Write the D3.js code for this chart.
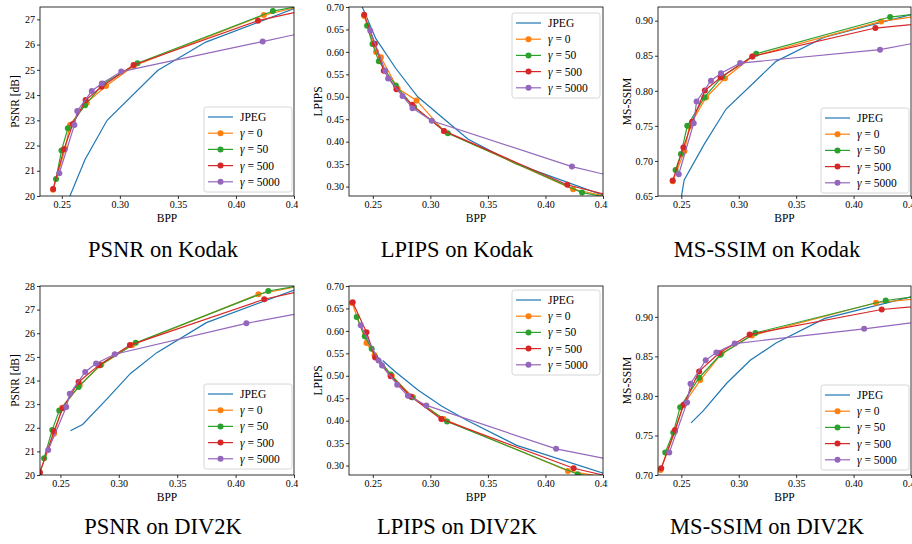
<!DOCTYPE html>
<html>
<head>
<meta charset="utf-8">
<script src="https://cdn.jsdelivr.net/npm/d3@7"></script>
<style>
  body { margin: 0; background: #fff; }
  text { font-family: "Liberation Serif", "Times New Roman", serif; fill: #000; }
</style>
</head>
<body>
<div id="chart"></div>
<script>
// ---- data ----
var seriesNames = ["JPEG", "0", "50", "500", "5000"];
var seriesColors = ["#1f77b4", "#ff7f0e", "#2ca02c", "#d62728", "#9467bd"];

var xTicks = [0.25, 0.30, 0.35, 0.40, 0.45];
var psnrKodakTicks = [20, 21, 22, 23, 24, 25, 26, 27];
var psnrDivTicks = [20, 21, 22, 23, 24, 25, 26, 27, 28];
var lpipsTicks = [0.30, 0.35, 0.40, 0.45, 0.50, 0.55, 0.60, 0.65, 0.70];
var msssimKodakTicks = [0.65, 0.70, 0.75, 0.80, 0.85, 0.90];
var msssimDivTicks = [0.70, 0.75, 0.80, 0.85, 0.90];

// Kodak
var kodakJpegBpp = [0.2400, 0.2525, 0.2700, 0.2890, 0.3325, 0.3740, 0.4600];
var kodakJpegPsnr = [18.5, 19.5, 21.45, 23.00, 24.97, 26.10, 27.60];
var kodakJpegLpips = [0.705, 0.630, 0.563, 0.500, 0.406, 0.351, 0.272];
var kodakJpegMsssim = [0.550, 0.673, 0.724, 0.774, 0.842, 0.876, 0.913];

var kodakG0Bpp = [0.2425, 0.2528, 0.2570, 0.2715, 0.2880, 0.3120, 0.4240, 0.55];
var kodakG0Psnr = [20.25, 21.86, 22.81, 23.70, 24.36, 25.15, 27.17, 28.53];
var kodakG0Lpips = [0.680, 0.600, 0.588, 0.519, 0.492, 0.423, 0.294, 0.226];
var kodakG0Msssim = [0.671, 0.714, 0.749, 0.7905, 0.818, 0.849, 0.899, 0.928];

var kodakG50Bpp = [0.2450, 0.2497, 0.2552, 0.2700, 0.2858, 0.3152, 0.4318, 0.55];
var kodakG50Psnr = [20.67, 21.80, 22.68, 23.60, 24.45, 25.26, 27.33, 28.31];
var kodakG50Lpips = [0.658, 0.6175, 0.579, 0.525, 0.477, 0.419, 0.2866, 0.230];
var kodakG50Msssim = [0.687, 0.710, 0.750, 0.7905, 0.8205, 0.8529, 0.9052, 0.9276];

var kodakG500Bpp = [0.2425, 0.2518, 0.2595, 0.2705, 0.2842, 0.3118, 0.4190, 0.55];
var kodakG500Psnr = [20.28, 21.85, 22.85, 23.80, 24.33, 25.19, 26.95, 28.3];
var kodakG500Lpips = [0.683, 0.618, 0.558, 0.517, 0.482, 0.424, 0.304, 0.218];
var kodakG500Msssim = [0.672, 0.719, 0.756, 0.8005, 0.819, 0.849, 0.8895, 0.910];

var kodakG5000Bpp = [0.2478, 0.2608, 0.2633, 0.2758, 0.2845, 0.3012, 0.4230, 0.55];
var kodakG5000Psnr = [20.90, 22.81, 23.37, 24.16, 24.46, 24.93, 26.12, 27.39];
var kodakG5000Lpips = [0.647, 0.558, 0.541, 0.502, 0.4747, 0.4465, 0.3446, 0.2665];
var kodakG5000Msssim = [0.681, 0.7538, 0.7848, 0.8143, 0.825, 0.8395, 0.8586, 0.8986];

// DIV2K
var divJpegBpp = [0.2585, 0.2690, 0.2895, 0.3100, 0.3325, 0.3750, 0.4600];
var divJpegPsnr = [21.87, 22.14, 23.20, 24.30, 25.18, 26.45, 28.01];
var divJpegLpips = [0.534, 0.510, 0.468, 0.432, 0.400, 0.345, 0.2747];
var divJpegMsssim = [0.766, 0.781, 0.816, 0.845, 0.867, 0.898, 0.929];

var divG0Bpp = [0.2320, 0.2445, 0.2515, 0.2665, 0.2850, 0.3115, 0.4195, 0.55];
var divG0Psnr = [20.08, 21.75, 22.85, 23.80, 24.67, 25.50, 27.65, 28.93];
var divG0Lpips = [0.662, 0.573, 0.546, 0.500, 0.452, 0.4035, 0.288, 0.232];
var divG0Msssim = [0.7063, 0.755, 0.788, 0.820, 0.8535, 0.8763, 0.9178, 0.936];

var divG50Bpp = [0.2360, 0.2430, 0.2490, 0.2655, 0.2840, 0.3145, 0.4280, 0.55];
var divG50Psnr = [20.71, 21.91, 22.73, 23.73, 24.65, 25.60, 27.79, 28.79];
var divG50Lpips = [0.6307, 0.5883, 0.560, 0.5026, 0.452, 0.3983, 0.2806, 0.233];
var divG50Msssim = [0.7283, 0.7537, 0.7858, 0.823, 0.852, 0.8797, 0.9207, 0.9445];

var divG500Bpp = [0.2325, 0.2445, 0.2520, 0.2655, 0.2830, 0.3095, 0.4245, 0.55];
var divG500Psnr = [20.11, 21.85, 22.83, 23.94, 24.65, 25.50, 27.44, 28.82];
var divG500Lpips = [0.664, 0.597, 0.541, 0.499, 0.454, 0.4035, 0.294, 0.220];
var divG500Msssim = [0.7085, 0.757, 0.7888, 0.831, 0.8543, 0.8776, 0.9093, 0.926];

var divG5000Bpp = [0.2395, 0.2550, 0.2580, 0.2712, 0.2805, 0.2965, 0.4092, 0.55];
var divG5000Psnr = [21.06, 22.88, 23.44, 24.36, 24.72, 25.11, 26.42, 27.73];
var divG5000Lpips = [0.6128, 0.534, 0.5227, 0.4803, 0.4557, 0.434, 0.3372, 0.2654];
var divG5000Msssim = [0.7283, 0.7918, 0.8154, 0.845, 0.855, 0.8662, 0.8848, 0.911];

// ---- build series tables ----
function makeSeries(bpps, vals) {
  return bpps.map(function(b, i) {
    var s = b.map(function(x, j) { return { x: x, y: vals[i][j] }; });
    return { name: seriesNames[i], color: seriesColors[i], marker: i > 0, pts: s };
  });
}
var kodakBpp = [kodakJpegBpp, kodakG0Bpp, kodakG50Bpp, kodakG500Bpp, kodakG5000Bpp];
var divBpp = [divJpegBpp, divG0Bpp, divG50Bpp, divG500Bpp, divG5000Bpp];

// layout (pixels)
var colLeft = [40, 349, 658], colRight = [294, 603, 911], colClip = [298, 608, 912], colStart = [0, 305, 610];
var rowTop = [7, 286], rowBottom = [196, 475], rowCaption = [257, 534];

var panels = [
  { row: 0, col: 0, ylabel: "PSNR [dB]", caption: "PSNR on Kodak", xd: [0.2312, 0.45], yd: [20, 27.49],
    yTicks: psnrKodakTicks, fmt: d3.format("d"), labOff: 25, legend: [204, 107],
    data: makeSeries(kodakBpp, [kodakJpegPsnr, kodakG0Psnr, kodakG50Psnr, kodakG500Psnr, kodakG5000Psnr]) },
  { row: 0, col: 1, ylabel: "LPIPS", caption: "LPIPS on Kodak", xd: [0.2293, 0.45], yd: [0.279, 0.70],
    yTicks: lpipsTicks, fmt: d3.format(".2f"), labOff: 31, legend: [512, 13],
    data: makeSeries(kodakBpp, [kodakJpegLpips, kodakG0Lpips, kodakG50Lpips, kodakG500Lpips, kodakG5000Lpips]) },
  { row: 0, col: 2, ylabel: "MS-SSIM", caption: "MS-SSIM on Kodak", xd: [0.2297, 0.45], yd: [0.65, 0.9195],
    yTicks: msssimKodakTicks, fmt: d3.format(".2f"), labOff: 31, legend: [821, 108],
    data: makeSeries(kodakBpp, [kodakJpegMsssim, kodakG0Msssim, kodakG50Msssim, kodakG500Msssim, kodakG5000Msssim]) },
  { row: 1, col: 0, ylabel: "PSNR [dB]", caption: "PSNR on DIV2K", xd: [0.2325, 0.45], yd: [20, 28],
    yTicks: psnrDivTicks, fmt: d3.format("d"), labOff: 25, legend: [204, 384],
    data: makeSeries(divBpp, [divJpegPsnr, divG0Psnr, divG50Psnr, divG500Psnr, divG5000Psnr]) },
  { row: 1, col: 1, ylabel: "LPIPS", caption: "LPIPS on DIV2K", xd: [0.2293, 0.45], yd: [0.279, 0.70],
    yTicks: lpipsTicks, fmt: d3.format(".2f"), labOff: 31, legend: [512, 290],
    data: makeSeries(divBpp, [divJpegLpips, divG0Lpips, divG50Lpips, divG500Lpips, divG5000Lpips]) },
  { row: 1, col: 2, ylabel: "MS-SSIM", caption: "MS-SSIM on DIV2K", xd: [0.2297, 0.45], yd: [0.70, 0.939],
    yTicks: msssimDivTicks, fmt: d3.format(".2f"), labOff: 31, legend: [821, 385],
    data: makeSeries(divBpp, [divJpegMsssim, divG0Msssim, divG50Msssim, divG500Msssim, divG5000Msssim]) }
];

var svg = d3.select("#chart").append("svg")
  .attr("width", 912)
  .attr("height", 544);
var defs = svg.append("defs");

panels.forEach(function(p, k) { draw_panel(p, k); });

function draw_panel(p, k) {
  var left = colLeft[p.col], right = colRight[p.col];
  var top = rowTop[p.row], bottom = rowBottom[p.row];

  // subfigure is cropped on the right, like the source
  defs.append("clipPath").attr("id", "sub" + k)
    .append("rect")
    .attr("x", colStart[p.col]).attr("y", top - 7)
    .attr("width", colClip[p.col] - colStart[p.col]).attr("height", 240);
  defs.append("clipPath").attr("id", "plot" + k)
    .append("rect")
    .attr("x", left).attr("y", top)
    .attr("width", right - left).attr("height", bottom - top);

  var g = svg.append("g").attr("clip-path", "url(#sub" + k + ")");

  var x = d3.scaleLinear().domain(p.xd).range([left, right]);
  var y = d3.scaleLinear().domain(p.yd).range([bottom, top]);

  var xAxis = d3.axisBottom(x).tickValues(xTicks).tickFormat(d3.format(".2f")).tickSize(3).tickPadding(2);
  var yAxis = d3.axisLeft(y).tickValues(p.yTicks).tickFormat(p.fmt).tickSize(3).tickPadding(2);

  g.append("g")
    .attr("class", "x axis")
    .attr("transform", "translate(0," + bottom + ")")
    .call(xAxis)
    .call(function(a) { a.select(".domain").remove(); })
    .selectAll("text").style("font-size", "10px");

  g.append("g")
    .attr("class", "y axis")
    .attr("transform", "translate(" + left + ",0)")
    .call(yAxis)
    .call(function(a) { a.select(".domain").remove(); })
    .selectAll("text").style("font-size", "10px");

  g.selectAll(".tick line").attr("stroke", "#000").attr("stroke-width", 0.8);

  // axis labels
  g.append("text")
    .attr("x", (left + right) / 2)
    .attr("y", bottom + 26)
    .style("text-anchor", "middle")
    .style("font-size", "11.5px")
    .text("BPP");

  g.append("text")
    .attr("transform", "translate(" + (left - p.labOff) + "," + ((top + bottom) / 2) + ") rotate(-90)")
    .attr("dy", "0.35em")
    .style("text-anchor", "middle")
    .style("font-size", "11.5px")
    .text(p.ylabel);

  // curves
  var plot = g.append("g").attr("clip-path", "url(#plot" + k + ")");
  var line = d3.line().x(function(d) { return x(d.x); }).y(function(d) { return y(d.y); });

  p.data.forEach(function(s) {
    plot.append("path")
      .datum(s.pts)
      .attr("fill", "none")
      .attr("stroke", s.color)
      .attr("stroke-width", 1.2)
      .attr("d", line);
    if (s.marker) {
      plot.selectAll(null)
        .data(s.pts)
        .enter().append("circle")
        .attr("cx", function(d) { return x(d.x); })
        .attr("cy", function(d) { return y(d.y); })
        .attr("r", 3)
        .attr("fill", s.color);
    }
  });

  // frame
  g.append("rect")
    .attr("x", left).attr("y", top)
    .attr("width", right - left).attr("height", bottom - top)
    .attr("fill", "none")
    .attr("stroke", "#000")
    .attr("stroke-width", 0.8);

  // legend
  var lx = p.legend[0], ly = p.legend[1];
  var lg = g.append("g");
  lg.append("rect")
    .attr("x", lx).attr("y", ly)
    .attr("width", 88).attr("height", 85)
    .attr("rx", 2.5)
    .attr("fill", "#fff").attr("fill-opacity", 0.8)
    .attr("stroke", "#ccc").attr("stroke-width", 0.8);

  p.data.forEach(function(s, i) {
    var yy = ly + 10 + i * 16.2;
    lg.append("line")
      .attr("x1", lx + 4).attr("x2", lx + 29)
      .attr("y1", yy).attr("y2", yy)
      .attr("stroke", s.color).attr("stroke-width", 1.2);
    if (s.marker) {
      lg.append("circle").attr("cx", lx + 16.5).attr("cy", yy).attr("r", 3).attr("fill", s.color);
    }
    var t = lg.append("text")
      .attr("x", lx + 36).attr("y", yy)
      .attr("dy", "0.35em")
      .style("font-size", "11.5px");
    if (i == 0) {
      t.text(s.name);
    } else {
      t.append("tspan").style("font-style", "italic").text("\u03b3");
      t.append("tspan").text(" = " + s.name);
    }
  });

  // caption under the subfigure
  svg.append("text")
    .attr("x", [163, 457, 767][p.col])
    .attr("y", rowCaption[p.row])
    .style("text-anchor", "middle")
    .style("font-size", "22.5px")
    .text(p.caption);
}
</script>
</body>
</html>
